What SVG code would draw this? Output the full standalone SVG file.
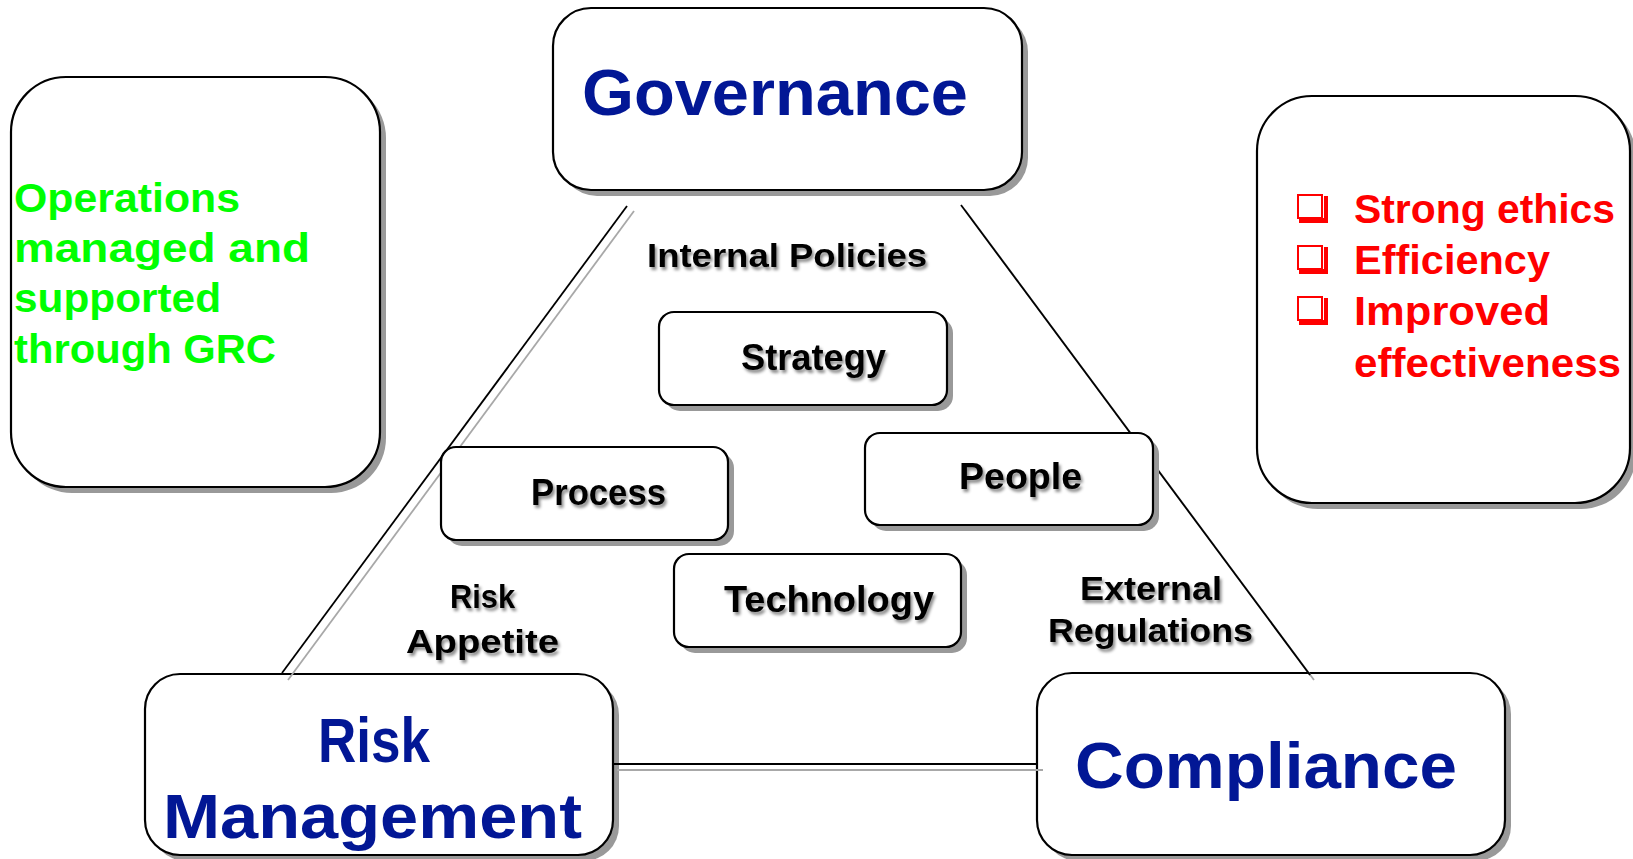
<svg xmlns="http://www.w3.org/2000/svg" width="1633" height="859" viewBox="0 0 1633 859">
<defs>
<style>
.box{fill:#fff;stroke:#000;stroke-width:2.2}
.sh{fill:#999}
.big{font-family:"Liberation Sans",Arial,sans-serif;font-weight:bold;fill:#021795}
.lbl{font-family:"Liberation Sans",Arial,sans-serif;font-weight:bold;fill:#000;filter:url(#ts)}
.grn{font-family:"Liberation Sans",Arial,sans-serif;font-weight:bold;fill:#00ff00;font-size:40px}
.red{font-family:"Liberation Sans",Arial,sans-serif;font-weight:bold;fill:#ff0000;font-size:40px}
.ln{stroke:#000;stroke-width:1.8;fill:none}
.lns{stroke:#a8a8a8;stroke-width:1.8;fill:none}
.cb{fill:#fff;stroke:#ff0000;stroke-width:2}
.cbs{fill:#ff0000}
</style>
<filter id="ts" x="-10%" y="-30%" width="120%" height="160%">
<feDropShadow dx="2" dy="3" stdDeviation="1.6" flood-color="#000" flood-opacity="0.45"/>
</filter>
</defs>

<g id="governance">
<rect class="sh" x="559" y="14" width="469" height="182" rx="38"/>
<rect class="box" x="553" y="8" width="469" height="182" rx="38"/>
<text class="big" x="582" y="115" font-size="65" textLength="386" lengthAdjust="spacingAndGlyphs">Governance</text>
</g>

<g id="operations">
<rect class="sh" x="17" y="83" width="369" height="410" rx="55"/>
<rect class="box" x="11" y="77" width="369" height="410" rx="55"/>
<text class="grn" x="14" y="212" textLength="226" lengthAdjust="spacingAndGlyphs">Operations</text>
<text class="grn" x="14" y="262" textLength="296" lengthAdjust="spacingAndGlyphs">managed and</text>
<text class="grn" x="14" y="312" textLength="207" lengthAdjust="spacingAndGlyphs">supported</text>
<text class="grn" x="14" y="363" textLength="262" lengthAdjust="spacingAndGlyphs">through GRC</text>
</g>

<g id="benefits">
<rect class="sh" x="1263" y="102" width="373" height="407" rx="55"/>
<rect class="box" x="1257" y="96" width="373" height="407" rx="55"/>
<path class="cbs" d="M1299 218h25v-22h4v27h-29z"/>
<rect class="cb" x="1298" y="195" width="24" height="23"/>
<path class="cbs" d="M1299 269h25v-22h4v27h-29z"/>
<rect class="cb" x="1298" y="246" width="24" height="23"/>
<path class="cbs" d="M1299 320h25v-22h4v27h-29z"/>
<rect class="cb" x="1298" y="297" width="24" height="23"/>
<text class="red" x="1354" y="223" textLength="261" lengthAdjust="spacingAndGlyphs">Strong ethics</text>
<text class="red" x="1354" y="274" textLength="196" lengthAdjust="spacingAndGlyphs">Efficiency</text>
<text class="red" x="1354" y="325" textLength="196" lengthAdjust="spacingAndGlyphs">Improved</text>
<text class="red" x="1354" y="377" textLength="267" lengthAdjust="spacingAndGlyphs">effectiveness</text>
</g>

<g id="risk-management">
<rect class="sh" x="151" y="680" width="468" height="181" rx="35"/>
<rect class="box" x="145" y="674" width="468" height="181" rx="35"/>
<text class="big" x="318" y="762" font-size="63" textLength="112" lengthAdjust="spacingAndGlyphs">Risk</text>
<text class="big" x="163" y="838" font-size="63" textLength="419" lengthAdjust="spacingAndGlyphs">Management</text>
</g>

<g id="compliance">
<rect class="sh" x="1043" y="679" width="468" height="182" rx="35"/>
<rect class="box" x="1037" y="673" width="468" height="182" rx="35"/>
<text class="big" x="1075" y="788" font-size="64" textLength="382" lengthAdjust="spacingAndGlyphs">Compliance</text>
</g>

<g id="connectors">
<line class="lns" x1="634" y1="211" x2="288" y2="680"/>
<line class="ln" x1="627" y1="206" x2="282" y2="673"/>
<line class="lns" x1="965" y1="210" x2="1314" y2="680"/>
<line class="ln" x1="961" y1="205" x2="1310" y2="675"/>
<line class="lns" x1="617" y1="770" x2="1043" y2="770"/>
<line class="ln" x1="613" y1="764" x2="1037" y2="764"/>
</g>

<g id="strategy">
<rect class="sh" x="665" y="318" width="288" height="93" rx="15"/>
<rect class="box" x="659" y="312" width="288" height="93" rx="15"/>
<text class="lbl" x="741" y="370" font-size="37" textLength="145" lengthAdjust="spacingAndGlyphs">Strategy</text>
</g>

<g id="process">
<rect class="sh" x="447" y="453" width="287" height="93" rx="15"/>
<rect class="box" x="441" y="447" width="287" height="93" rx="15"/>
<text class="lbl" x="531" y="505" font-size="37" textLength="135" lengthAdjust="spacingAndGlyphs">Process</text>
</g>

<g id="people">
<rect class="sh" x="871" y="439" width="288" height="92" rx="15"/>
<rect class="box" x="865" y="433" width="288" height="92" rx="15"/>
<text class="lbl" x="959" y="489" font-size="37" textLength="123" lengthAdjust="spacingAndGlyphs">People</text>
</g>

<g id="technology">
<rect class="sh" x="680" y="560" width="287" height="93" rx="15"/>
<rect class="box" x="674" y="554" width="287" height="93" rx="15"/>
<text class="lbl" x="724" y="612" font-size="37" textLength="210" lengthAdjust="spacingAndGlyphs">Technology</text>
</g>

<g id="labels">
<text class="lbl" x="647" y="267" font-size="34" textLength="280" lengthAdjust="spacingAndGlyphs">Internal Policies</text>
<text class="lbl" x="450" y="608" font-size="34" textLength="65" lengthAdjust="spacingAndGlyphs">Risk</text>
<text class="lbl" x="406" y="653" font-size="34" textLength="153" lengthAdjust="spacingAndGlyphs">Appetite</text>
<text class="lbl" x="1080" y="600" font-size="34" textLength="142" lengthAdjust="spacingAndGlyphs">External</text>
<text class="lbl" x="1048" y="642" font-size="34" textLength="205" lengthAdjust="spacingAndGlyphs">Regulations</text>
</g>
</svg>
